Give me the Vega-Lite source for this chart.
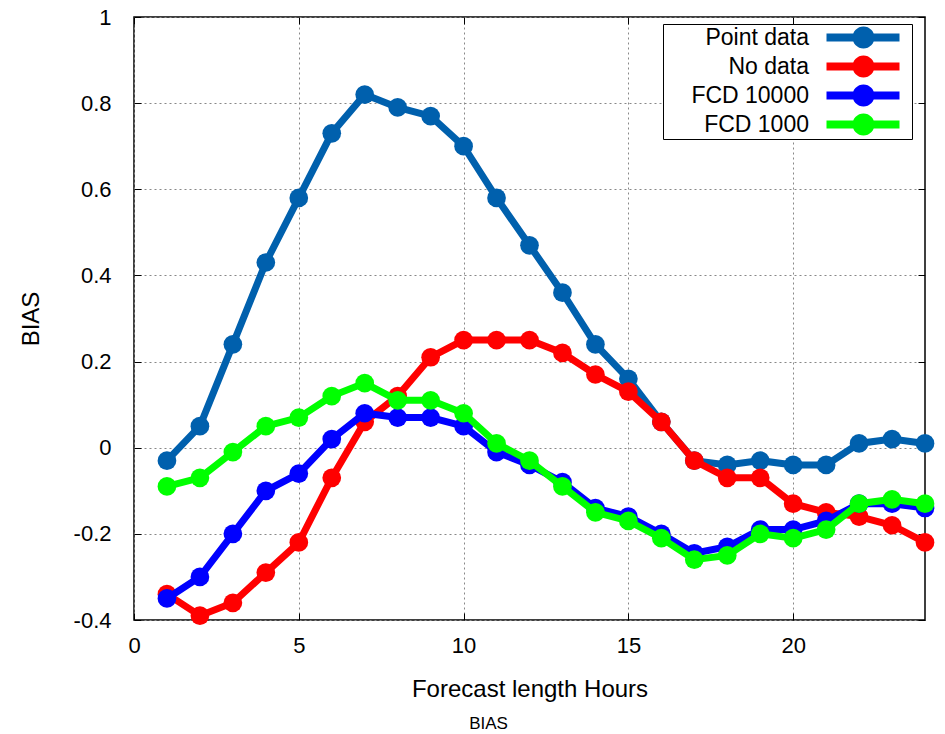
{
  "$schema": "https://vega.github.io/schema/vega-lite/v6.json",
  "width": 791,
  "height": 603,
  "autosize": "none",
  "padding": {"left": 134, "top": 17, "right": 20, "bottom": 114},
  "background": "white",
  "config": {
    "font": "Liberation Sans",
    "view": {"stroke": "#000", "strokeWidth": 1.5},
    "axis": {"labelColor": "#000", "titleColor": "#000", "tickColor": "#000", "domain": false, "labelFlush": false, "labelOverlap": false}
  },
  "title": {"text": "BIAS", "orient": "bottom", "fontSize": 17, "fontWeight": "normal", "color": "#000", "offset": 15, "dx": -41, "anchor": "middle"},
  "data": {"values": [
    {"h":1,"s":"Point data","v":-0.03},{"h":2,"s":"Point data","v":0.05},{"h":3,"s":"Point data","v":0.24},{"h":4,"s":"Point data","v":0.43},{"h":5,"s":"Point data","v":0.58},{"h":6,"s":"Point data","v":0.73},{"h":7,"s":"Point data","v":0.82},{"h":8,"s":"Point data","v":0.79},{"h":9,"s":"Point data","v":0.77},{"h":10,"s":"Point data","v":0.70},{"h":11,"s":"Point data","v":0.58},{"h":12,"s":"Point data","v":0.47},{"h":13,"s":"Point data","v":0.36},{"h":14,"s":"Point data","v":0.24},{"h":15,"s":"Point data","v":0.16},{"h":16,"s":"Point data","v":0.06},{"h":17,"s":"Point data","v":-0.03},{"h":18,"s":"Point data","v":-0.04},{"h":19,"s":"Point data","v":-0.03},{"h":20,"s":"Point data","v":-0.04},{"h":21,"s":"Point data","v":-0.04},{"h":22,"s":"Point data","v":0.01},{"h":23,"s":"Point data","v":0.02},{"h":24,"s":"Point data","v":0.01},
    {"h":1,"s":"No data","v":-0.34},{"h":2,"s":"No data","v":-0.39},{"h":3,"s":"No data","v":-0.36},{"h":4,"s":"No data","v":-0.29},{"h":5,"s":"No data","v":-0.22},{"h":6,"s":"No data","v":-0.07},{"h":7,"s":"No data","v":0.06},{"h":8,"s":"No data","v":0.12},{"h":9,"s":"No data","v":0.21},{"h":10,"s":"No data","v":0.25},{"h":11,"s":"No data","v":0.25},{"h":12,"s":"No data","v":0.25},{"h":13,"s":"No data","v":0.22},{"h":14,"s":"No data","v":0.17},{"h":15,"s":"No data","v":0.13},{"h":16,"s":"No data","v":0.06},{"h":17,"s":"No data","v":-0.03},{"h":18,"s":"No data","v":-0.07},{"h":19,"s":"No data","v":-0.07},{"h":20,"s":"No data","v":-0.13},{"h":21,"s":"No data","v":-0.15},{"h":22,"s":"No data","v":-0.16},{"h":23,"s":"No data","v":-0.18},{"h":24,"s":"No data","v":-0.22},
    {"h":1,"s":"FCD 10000","v":-0.35},{"h":2,"s":"FCD 10000","v":-0.30},{"h":3,"s":"FCD 10000","v":-0.20},{"h":4,"s":"FCD 10000","v":-0.10},{"h":5,"s":"FCD 10000","v":-0.06},{"h":6,"s":"FCD 10000","v":0.02},{"h":7,"s":"FCD 10000","v":0.08},{"h":8,"s":"FCD 10000","v":0.07},{"h":9,"s":"FCD 10000","v":0.07},{"h":10,"s":"FCD 10000","v":0.05},{"h":11,"s":"FCD 10000","v":-0.01},{"h":12,"s":"FCD 10000","v":-0.04},{"h":13,"s":"FCD 10000","v":-0.08},{"h":14,"s":"FCD 10000","v":-0.14},{"h":15,"s":"FCD 10000","v":-0.16},{"h":16,"s":"FCD 10000","v":-0.20},{"h":17,"s":"FCD 10000","v":-0.245},{"h":18,"s":"FCD 10000","v":-0.23},{"h":19,"s":"FCD 10000","v":-0.19},{"h":20,"s":"FCD 10000","v":-0.19},{"h":21,"s":"FCD 10000","v":-0.17},{"h":22,"s":"FCD 10000","v":-0.13},{"h":23,"s":"FCD 10000","v":-0.13},{"h":24,"s":"FCD 10000","v":-0.14},
    {"h":1,"s":"FCD 1000","v":-0.09},{"h":2,"s":"FCD 1000","v":-0.07},{"h":3,"s":"FCD 1000","v":-0.01},{"h":4,"s":"FCD 1000","v":0.05},{"h":5,"s":"FCD 1000","v":0.07},{"h":6,"s":"FCD 1000","v":0.12},{"h":7,"s":"FCD 1000","v":0.15},{"h":8,"s":"FCD 1000","v":0.11},{"h":9,"s":"FCD 1000","v":0.11},{"h":10,"s":"FCD 1000","v":0.08},{"h":11,"s":"FCD 1000","v":0.01},{"h":12,"s":"FCD 1000","v":-0.03},{"h":13,"s":"FCD 1000","v":-0.09},{"h":14,"s":"FCD 1000","v":-0.15},{"h":15,"s":"FCD 1000","v":-0.17},{"h":16,"s":"FCD 1000","v":-0.21},{"h":17,"s":"FCD 1000","v":-0.26},{"h":18,"s":"FCD 1000","v":-0.25},{"h":19,"s":"FCD 1000","v":-0.20},{"h":20,"s":"FCD 1000","v":-0.21},{"h":21,"s":"FCD 1000","v":-0.19},{"h":22,"s":"FCD 1000","v":-0.13},{"h":23,"s":"FCD 1000","v":-0.12},{"h":24,"s":"FCD 1000","v":-0.13}
  ]},
  "layer": [
    {
      "encoding": {
        "x": {"field": "h", "type": "quantitative", "scale": {"domain": [0, 24], "nice": false},
          "axis": {"values": [0, 5, 10, 15, 20], "title": "Forecast length Hours", "titleFontSize": 24, "titleFontWeight": "normal", "titlePadding": 21,
            "labelFontSize": 22, "labelPadding": 22, "tickSize": -7, "grid": true, "gridDash": [2, 3], "gridColor": "#888", "gridWidth": 1}},
        "y": {"field": "v", "type": "quantitative", "scale": {"domain": [-0.4, 1], "nice": false, "zero": false},
          "axis": {"values": [-0.4, -0.2, 0, 0.2, 0.4, 0.6, 0.8, 1], "labelExpr": "'' + datum.value", "title": "BIAS", "titleFontSize": 24, "titleFontWeight": "normal", "titlePadding": 30,
            "labelFontSize": 22, "labelPadding": 30, "tickSize": -7, "grid": true, "gridDash": [2, 3], "gridColor": "#888", "gridWidth": 1}},
        "color": {"field": "s", "type": "nominal",
          "scale": {"domain": ["Point data", "No data", "FCD 10000", "FCD 1000"], "range": ["#0060ad", "#ff0000", "#0000ff", "#00ff00"]},
          "legend": {"orient": "none", "legendX": 529, "legendY": 7, "title": null, "padding": 2,
            "symbolType": "M15,-0.4H22.3V0.4H15Z M19.8,0A1.1,1.1 0 1,1 17.6,0A1.1,1.1 0 1,1 19.8,0Z M23.3,0L23.3,0",
            "symbolSize": 400, "symbolStrokeWidth": 0, "labelFontSize": 23, "labelColor": "#000", "labelAlign": "right", "labelOffset": 121,
            "rowPadding": 5, "strokeColor": "#000", "fillColor": "white",
            "encode": {"symbols": {"update": {"fill": {"scale": "color", "field": "value"}, "stroke": {"value": "transparent"}, "opacity": {"value": 1}}}}}
        }
      },
      "layer": [
        {"transform": [{"filter": "datum.s === 'Point data'"}], "mark": {"type": "line", "strokeWidth": 7, "point": {"filled": true, "size": 350, "opacity": 1}}},
        {"transform": [{"filter": "datum.s === 'No data'"}], "mark": {"type": "line", "strokeWidth": 7, "point": {"filled": true, "size": 350, "opacity": 1}}},
        {"transform": [{"filter": "datum.s === 'FCD 10000'"}], "mark": {"type": "line", "strokeWidth": 7, "point": {"filled": true, "size": 350, "opacity": 1}}},
        {"transform": [{"filter": "datum.s === 'FCD 1000'"}], "mark": {"type": "line", "strokeWidth": 7, "point": {"filled": true, "size": 350, "opacity": 1}}}
      ]
    },
    {
      "mark": {"type": "point", "opacity": 0},
      "encoding": {
        "x": {"field": "h", "type": "quantitative", "scale": {"domain": [0, 24], "nice": false},
          "axis": {"orient": "top", "values": [0, 5, 10, 15, 20], "labels": false, "title": null, "grid": false, "tickSize": -7}},
        "y": {"field": "v", "type": "quantitative", "scale": {"domain": [-0.4, 1], "nice": false, "zero": false},
          "axis": {"orient": "right", "values": [-0.4, -0.2, 0, 0.2, 0.4, 0.6, 0.8, 1], "labels": false, "title": null, "grid": false, "tickSize": -7}}
      }
    }
  ],
  "resolve": {"axis": {"x": "independent", "y": "independent"}}
}
